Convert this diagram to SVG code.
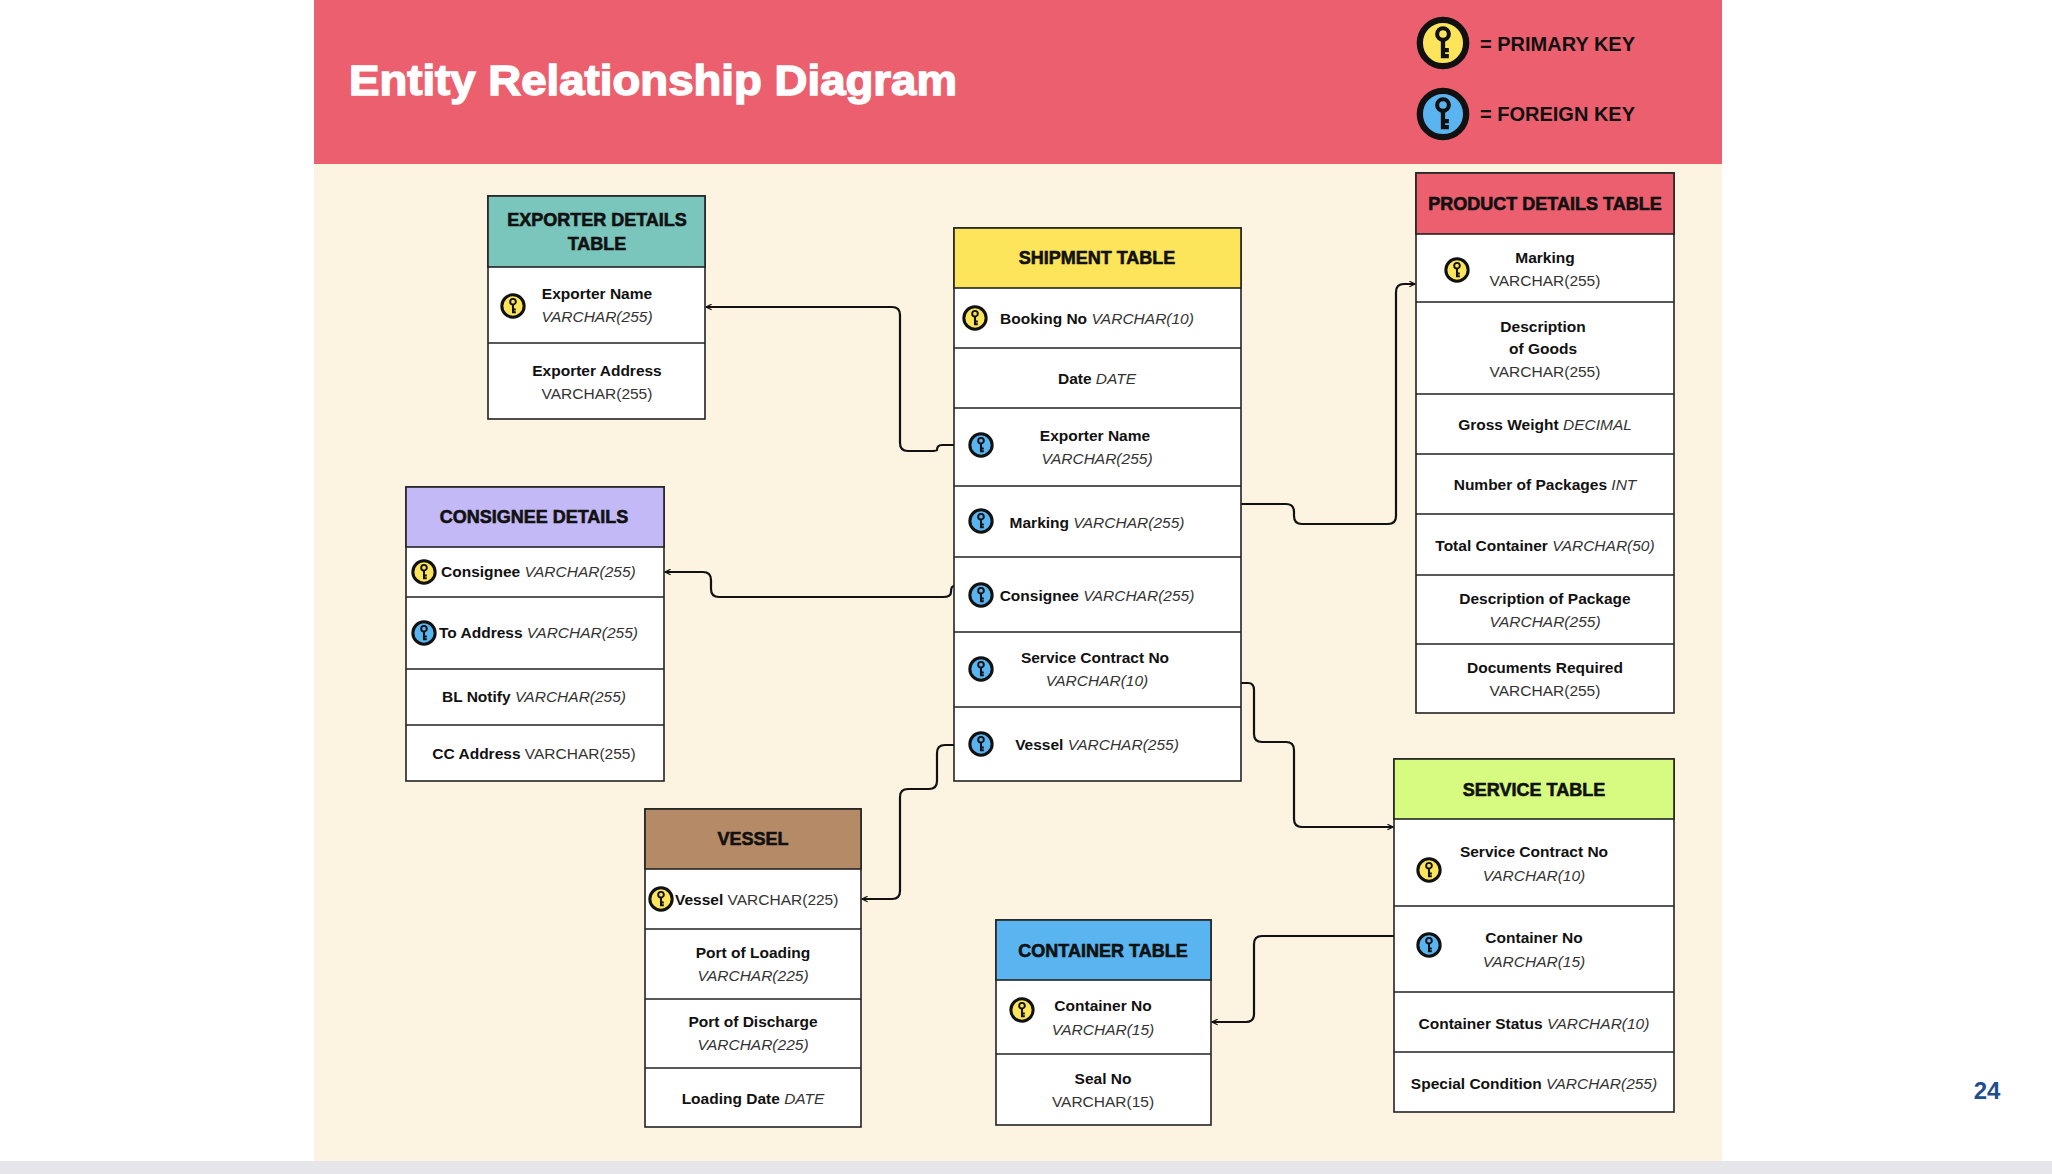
<svg xmlns="http://www.w3.org/2000/svg" xmlns:xlink="http://www.w3.org/1999/xlink" width="2052" height="1174" viewBox="0 0 2052 1174">
<style>
.tb{fill:#fff;stroke:#222;stroke-width:1.6}
.hd{font-family:"Liberation Sans",Arial,sans-serif;font-weight:bold;font-size:18px;fill:#111;stroke:#111;stroke-width:0.6;text-anchor:middle}
.f{font-family:"Liberation Sans",Arial,sans-serif;font-size:15.5px;fill:#111;text-anchor:middle}
.l{text-anchor:start}
.b{font-weight:bold}
.i{font-style:italic;fill:#333}
.t{fill:#333}
.cn{fill:none;stroke:#111;stroke-width:2.2;marker-end:url(#ah)}
</style>
<defs>
<marker id="ah" viewBox="0 0 10 10" refX="9" refY="5" markerWidth="7" markerHeight="7" orient="auto" markerUnits="userSpaceOnUse"><path d="M1,1 L9,5 L1,9" fill="none" stroke="#111" stroke-width="1.6"/></marker>
<symbol id="key" viewBox="-12 -12 24 24" overflow="visible"><circle cx="0" cy="-4" r="2.6" fill="none" stroke="#111" stroke-width="1.8"/><path d="M0,-1.4 V6.8 M0,3.2 H2.6 M0,5.8 H2.6" stroke="#111" stroke-width="1.9" fill="none"/></symbol>
<symbol id="pk" viewBox="-12 -12 24 24" overflow="visible"><circle r="10.3" fill="#fce55a" stroke="#111" stroke-width="2.8"/><use xlink:href="#key" x="-12" y="-12" width="24" height="24"/></symbol>
<symbol id="fk" viewBox="-12 -12 24 24" overflow="visible"><circle r="10.3" fill="#5ab4f0" stroke="#111" stroke-width="2.8"/><use xlink:href="#key" x="-12" y="-12" width="24" height="24"/></symbol>
</defs>
<rect width="2052" height="1174" fill="#fff"/>
<rect x="0" y="1161" width="2052" height="13" fill="#e6e6ea"/>
<rect x="314" y="164" width="1408" height="997" fill="#fdf3e1"/>
<rect x="314" y="0" width="1408" height="164" fill="#ec5f6e"/>
<text x="349" y="95" font-family="'Liberation Sans',sans-serif" font-weight="bold" font-size="42" fill="#fff" stroke="#fff" stroke-width="1.4" textLength="608" lengthAdjust="spacingAndGlyphs">Entity Relationship Diagram</text>
<g id="legend">
<use xlink:href="#pk" x="1416" y="16" width="54" height="54"/>
<use xlink:href="#fk" x="1416" y="87" width="54" height="54"/>
<text x="1480" y="51" font-family="'Liberation Sans',sans-serif" font-weight="bold" font-size="20" fill="#111">= PRIMARY KEY</text>
<text x="1480" y="121" font-family="'Liberation Sans',sans-serif" font-weight="bold" font-size="20" fill="#111">= FOREIGN KEY</text>
</g>
<text x="1987" y="1099" font-family="'Liberation Sans',sans-serif" font-weight="bold" font-size="24" fill="#1f4e8c" text-anchor="middle">24</text>

<g id="connectors">
<path class="cn" d="M954,445 H942 Q937,445 937,450 Q937,451 930,451 H908 Q900,451 900,443 V315 Q900,307 892,307 H706"/>
<path class="cn" d="M954,586 Q951,586 951,592 Q951,597 943,597 H719 Q711,597 711,589 V580 Q711,572 703,572 H665"/>
<path class="cn" d="M954,745 H945 Q937,745 937,753 V781 Q937,789 929,789 H908 Q900,789 900,797 V891 Q900,899 892,899 H862"/>
<path class="cn" d="M1241,504 H1286 Q1294,504 1294,512 V516 Q1294,524 1302,524 H1388 Q1396,524 1396,516 V292 Q1396,284 1404,284 H1415"/>
<path class="cn" d="M1241,683 H1248 Q1254,683 1254,690 V734 Q1254,742 1262,742 H1286 Q1294,742 1294,750 V819 Q1294,827 1302,827 H1393"/>
<path class="cn" d="M1394,936 H1262 Q1254,936 1254,944 V1014 Q1254,1022 1246,1022 H1212"/>
</g>

<g id="exporter">
<rect x="488" y="196" width="217" height="223" class="tb"/>
<rect x="488" y="196" width="217" height="71" fill="#7ac5bc" stroke="#222" stroke-width="1.6"/>
<line x1="488" y1="343" x2="705" y2="343" stroke="#222" stroke-width="1.6"/>
<text class="hd" x="597" y="226">EXPORTER DETAILS</text>
<text class="hd" x="597" y="250">TABLE</text>
<use xlink:href="#pk" x="500" y="293" width="26" height="26"/>
<text class="f b" x="597" y="299">Exporter Name</text>
<text class="f i" x="597" y="322">VARCHAR(255)</text>
<text class="f b" x="597" y="376">Exporter Address</text>
<text class="f t" x="597" y="399">VARCHAR(255)</text>
</g>

<g id="shipment">
<rect x="954" y="228" width="287" height="553" class="tb"/>
<rect x="954" y="228" width="287" height="60" fill="#fce55a" stroke="#222" stroke-width="1.6"/>
<path d="M954,348 H1241 M954,408 H1241 M954,486 H1241 M954,557 H1241 M954,632 H1241 M954,707 H1241" stroke="#222" stroke-width="1.6"/>
<text class="hd" x="1097" y="264">SHIPMENT TABLE</text>
<use xlink:href="#pk" x="962" y="305" width="26" height="26"/>
<text class="f" x="1097" y="324"><tspan class="b">Booking No </tspan><tspan class="i">VARCHAR(10)</tspan></text>
<text class="f" x="1097" y="384"><tspan class="b">Date </tspan><tspan class="i">DATE</tspan></text>
<use xlink:href="#fk" x="968" y="432" width="26" height="26"/>
<text class="f b" x="1095" y="441">Exporter Name</text>
<text class="f i" x="1097" y="464">VARCHAR(255)</text>
<use xlink:href="#fk" x="968" y="508" width="26" height="26"/>
<text class="f" x="1097" y="528"><tspan class="b">Marking </tspan><tspan class="i">VARCHAR(255)</tspan></text>
<use xlink:href="#fk" x="968" y="582" width="26" height="26"/>
<text class="f" x="1097" y="601"><tspan class="b">Consignee </tspan><tspan class="i">VARCHAR(255)</tspan></text>
<use xlink:href="#fk" x="968" y="656" width="26" height="26"/>
<text class="f b" x="1095" y="663">Service Contract No</text>
<text class="f i" x="1097" y="686">VARCHAR(10)</text>
<use xlink:href="#fk" x="968" y="731" width="26" height="26"/>
<text class="f" x="1097" y="750"><tspan class="b">Vessel </tspan><tspan class="i">VARCHAR(255)</tspan></text>
</g>

<g id="product">
<rect x="1416" y="173" width="258" height="540" class="tb"/>
<rect x="1416" y="173" width="258" height="61" fill="#ec5f6e" stroke="#222" stroke-width="1.6"/>
<path d="M1416,302 H1674 M1416,394 H1674 M1416,454 H1674 M1416,514 H1674 M1416,575 H1674 M1416,644 H1674" stroke="#222" stroke-width="1.6"/>
<text class="hd" x="1545" y="210">PRODUCT DETAILS TABLE</text>
<use xlink:href="#pk" x="1444" y="257" width="26" height="26"/>
<text class="f b" x="1545" y="263">Marking</text>
<text class="f t" x="1545" y="286">VARCHAR(255)</text>
<text class="f b" x="1543" y="332">Description</text>
<text class="f b" x="1543" y="354">of Goods</text>
<text class="f t" x="1545" y="377">VARCHAR(255)</text>
<text class="f" x="1545" y="430"><tspan class="b">Gross Weight </tspan><tspan class="i">DECIMAL</tspan></text>
<text class="f" x="1545" y="490"><tspan class="b">Number of Packages </tspan><tspan class="i">INT</tspan></text>
<text class="f" x="1545" y="551"><tspan class="b">Total Container </tspan><tspan class="i">VARCHAR(50)</tspan></text>
<text class="f b" x="1545" y="604">Description of Package</text>
<text class="f i" x="1545" y="627">VARCHAR(255)</text>
<text class="f b" x="1545" y="673">Documents Required</text>
<text class="f t" x="1545" y="696">VARCHAR(255)</text>
</g>

<g id="consignee">
<rect x="406" y="487" width="258" height="294" class="tb"/>
<rect x="406" y="487" width="258" height="60" fill="#c3b9f7" stroke="#222" stroke-width="1.6"/>
<path d="M406,597 H664 M406,669 H664 M406,725 H664" stroke="#222" stroke-width="1.6"/>
<text class="hd" x="534" y="523">CONSIGNEE DETAILS</text>
<use xlink:href="#pk" x="411" y="559" width="26" height="26"/>
<text class="f l" x="441" y="577"><tspan class="b">Consignee </tspan><tspan class="i">VARCHAR(255)</tspan></text>
<use xlink:href="#fk" x="411" y="620" width="26" height="26"/>
<text class="f l" x="439" y="638"><tspan class="b">To Address </tspan><tspan class="i">VARCHAR(255)</tspan></text>
<text class="f" x="534" y="702"><tspan class="b">BL Notify </tspan><tspan class="i">VARCHAR(255)</tspan></text>
<text class="f" x="534" y="759"><tspan class="b">CC Address </tspan><tspan class="t">VARCHAR(255)</tspan></text>
</g>

<g id="vessel">
<rect x="645" y="809" width="216" height="318" class="tb"/>
<rect x="645" y="809" width="216" height="60" fill="#b58a66" stroke="#222" stroke-width="1.6"/>
<path d="M645,929 H861 M645,999 H861 M645,1068 H861" stroke="#222" stroke-width="1.6"/>
<text class="hd" x="753" y="845">VESSEL</text>
<use xlink:href="#pk" x="648" y="886" width="26" height="26"/>
<text class="f l" x="675" y="905"><tspan class="b">Vessel </tspan><tspan class="t">VARCHAR(225)</tspan></text>
<text class="f b" x="753" y="958">Port of Loading</text>
<text class="f i" x="753" y="981">VARCHAR(225)</text>
<text class="f b" x="753" y="1027">Port of Discharge</text>
<text class="f i" x="753" y="1050">VARCHAR(225)</text>
<text class="f" x="753" y="1104"><tspan class="b">Loading Date </tspan><tspan class="i">DATE</tspan></text>
</g>

<g id="container">
<rect x="996" y="920" width="215" height="205" class="tb"/>
<rect x="996" y="920" width="215" height="60" fill="#5ab4f0" stroke="#222" stroke-width="1.6"/>
<line x1="996" y1="1054" x2="1211" y2="1054" stroke="#222" stroke-width="1.6"/>
<text class="hd" x="1103" y="957">CONTAINER TABLE</text>
<use xlink:href="#pk" x="1009" y="997" width="26" height="26"/>
<text class="f b" x="1103" y="1011">Container No</text>
<text class="f i" x="1103" y="1035">VARCHAR(15)</text>
<text class="f b" x="1103" y="1084">Seal No</text>
<text class="f t" x="1103" y="1107">VARCHAR(15)</text>
</g>

<g id="service">
<rect x="1394" y="759" width="280" height="353" class="tb"/>
<rect x="1394" y="759" width="280" height="60" fill="#d6fb80" stroke="#222" stroke-width="1.6"/>
<path d="M1394,906 H1674 M1394,992 H1674 M1394,1052 H1674" stroke="#222" stroke-width="1.6"/>
<text class="hd" x="1534" y="796">SERVICE TABLE</text>
<use xlink:href="#pk" x="1416" y="857" width="26" height="26"/>
<text class="f b" x="1534" y="857">Service Contract No</text>
<text class="f i" x="1534" y="881">VARCHAR(10)</text>
<use xlink:href="#fk" x="1416" y="932" width="26" height="26"/>
<text class="f b" x="1534" y="943">Container No</text>
<text class="f i" x="1534" y="967">VARCHAR(15)</text>
<text class="f" x="1534" y="1029"><tspan class="b">Container Status </tspan><tspan class="i">VARCHAR(10)</tspan></text>
<text class="f" x="1534" y="1089"><tspan class="b">Special Condition </tspan><tspan class="i">VARCHAR(255)</tspan></text>
</g>
</svg>
